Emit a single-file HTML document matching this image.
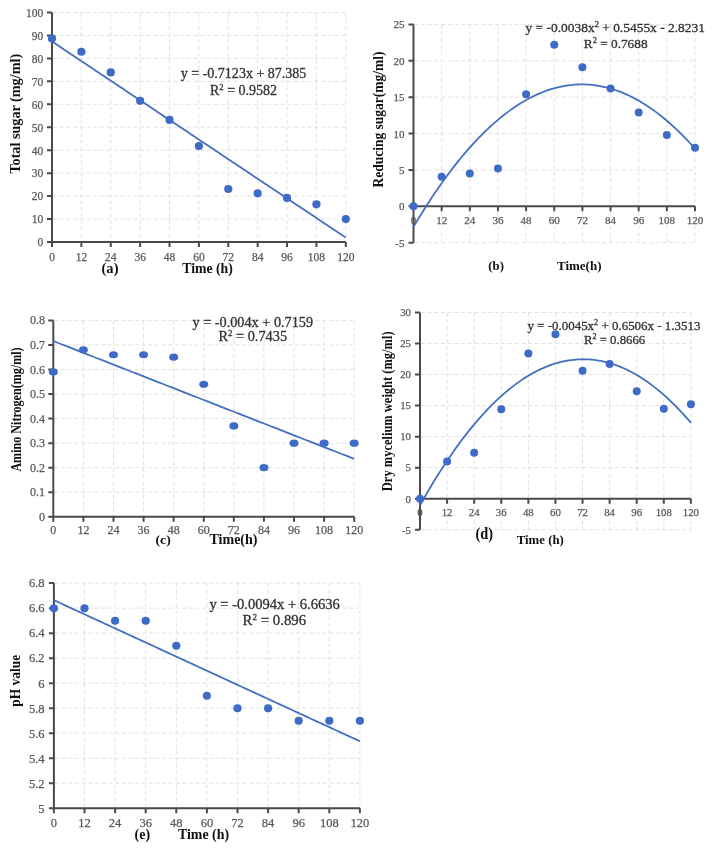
<!DOCTYPE html>
<html><head><meta charset="utf-8"><style>
html,body{margin:0;padding:0;background:#fff;width:721px;height:857px;overflow:hidden}
svg{display:block;filter:blur(0.6px);font-family:"Liberation Serif",serif}
</style></head><body>
<svg width="721" height="857" viewBox="0 0 721 857">
<rect width="721" height="857" fill="#fff"/>
<path d="M53.00 219.05H345.80M53.00 196.10H345.80M53.00 173.15H345.80M53.00 150.20H345.80M53.00 127.25H345.80M53.00 104.30H345.80M53.00 81.35H345.80M53.00 58.40H345.80M53.00 35.45H345.80M53.00 12.50H345.80M81.38 12.50V242.00M110.76 12.50V242.00M140.14 12.50V242.00M169.52 12.50V242.00M198.90 12.50V242.00M228.28 12.50V242.00M257.66 12.50V242.00M287.04 12.50V242.00M316.42 12.50V242.00M345.80 12.50V242.00" stroke="#e2e2e2" stroke-width="1" stroke-dasharray="4 2.7" fill="none"/>
<path d="M52.00 12.50V242.00M52.00 242.00H345.80M47.00 242.00H52.00M47.00 219.05H52.00M47.00 196.10H52.00M47.00 173.15H52.00M47.00 150.20H52.00M47.00 127.25H52.00M47.00 104.30H52.00M47.00 81.35H52.00M47.00 58.40H52.00M47.00 35.45H52.00M47.00 12.50H52.00M52.00 242.00V247.00M81.38 242.00V247.00M110.76 242.00V247.00M140.14 242.00V247.00M169.52 242.00V247.00M198.90 242.00V247.00M228.28 242.00V247.00M257.66 242.00V247.00M287.04 242.00V247.00M316.42 242.00V247.00M345.80 242.00V247.00" stroke="#4a4a4a" stroke-width="2" fill="none"/>
<text x="43.20" y="246.30" font-size="11.5" fill="#595959" stroke="#595959" stroke-width="0.25" text-anchor="end">0</text>
<text x="43.20" y="223.35" font-size="11.5" fill="#595959" stroke="#595959" stroke-width="0.25" text-anchor="end">10</text>
<text x="43.20" y="200.40" font-size="11.5" fill="#595959" stroke="#595959" stroke-width="0.25" text-anchor="end">20</text>
<text x="43.20" y="177.45" font-size="11.5" fill="#595959" stroke="#595959" stroke-width="0.25" text-anchor="end">30</text>
<text x="43.20" y="154.50" font-size="11.5" fill="#595959" stroke="#595959" stroke-width="0.25" text-anchor="end">40</text>
<text x="43.20" y="131.55" font-size="11.5" fill="#595959" stroke="#595959" stroke-width="0.25" text-anchor="end">50</text>
<text x="43.20" y="108.60" font-size="11.5" fill="#595959" stroke="#595959" stroke-width="0.25" text-anchor="end">60</text>
<text x="43.20" y="85.65" font-size="11.5" fill="#595959" stroke="#595959" stroke-width="0.25" text-anchor="end">70</text>
<text x="43.20" y="62.70" font-size="11.5" fill="#595959" stroke="#595959" stroke-width="0.25" text-anchor="end">80</text>
<text x="43.20" y="39.75" font-size="11.5" fill="#595959" stroke="#595959" stroke-width="0.25" text-anchor="end">90</text>
<text x="43.20" y="16.80" font-size="11.5" fill="#595959" stroke="#595959" stroke-width="0.25" text-anchor="end">100</text>
<text x="52.00" y="260.80" font-size="11.5" fill="#595959" stroke="#595959" stroke-width="0.25" text-anchor="middle">0</text>
<text x="81.38" y="260.80" font-size="11.5" fill="#595959" stroke="#595959" stroke-width="0.25" text-anchor="middle">12</text>
<text x="110.76" y="260.80" font-size="11.5" fill="#595959" stroke="#595959" stroke-width="0.25" text-anchor="middle">24</text>
<text x="140.14" y="260.80" font-size="11.5" fill="#595959" stroke="#595959" stroke-width="0.25" text-anchor="middle">36</text>
<text x="169.52" y="260.80" font-size="11.5" fill="#595959" stroke="#595959" stroke-width="0.25" text-anchor="middle">48</text>
<text x="198.90" y="260.80" font-size="11.5" fill="#595959" stroke="#595959" stroke-width="0.25" text-anchor="middle">60</text>
<text x="228.28" y="260.80" font-size="11.5" fill="#595959" stroke="#595959" stroke-width="0.25" text-anchor="middle">72</text>
<text x="257.66" y="260.80" font-size="11.5" fill="#595959" stroke="#595959" stroke-width="0.25" text-anchor="middle">84</text>
<text x="287.04" y="260.80" font-size="11.5" fill="#595959" stroke="#595959" stroke-width="0.25" text-anchor="middle">96</text>
<text x="316.42" y="260.80" font-size="11.5" fill="#595959" stroke="#595959" stroke-width="0.25" text-anchor="middle">108</text>
<text x="345.80" y="260.80" font-size="11.5" fill="#595959" stroke="#595959" stroke-width="0.25" text-anchor="middle">120</text>
<path d="M52.00 41.45L54.45 43.09L56.90 44.72L59.34 46.36L61.79 47.99L64.24 49.63L66.69 51.26L69.14 52.89L71.59 54.53L74.03 56.16L76.48 57.80L78.93 59.43L81.38 61.07L83.83 62.70L86.28 64.34L88.72 65.97L91.17 67.61L93.62 69.24L96.07 70.88L98.52 72.51L100.97 74.15L103.41 75.78L105.86 77.42L108.31 79.05L110.76 80.68L113.21 82.32L115.66 83.95L118.11 85.59L120.55 87.22L123.00 88.86L125.45 90.49L127.90 92.13L130.35 93.76L132.80 95.40L135.24 97.03L137.69 98.67L140.14 100.30L142.59 101.94L145.04 103.57L147.49 105.21L149.93 106.84L152.38 108.48L154.83 110.11L157.28 111.74L159.73 113.38L162.18 115.01L164.62 116.65L167.07 118.28L169.52 119.92L171.97 121.55L174.42 123.19L176.87 124.82L179.31 126.46L181.76 128.09L184.21 129.73L186.66 131.36L189.11 133.00L191.56 134.63L194.00 136.27L196.45 137.90L198.90 139.54L201.35 141.17L203.80 142.80L206.25 144.44L208.69 146.07L211.14 147.71L213.59 149.34L216.04 150.98L218.49 152.61L220.94 154.25L223.38 155.88L225.83 157.52L228.28 159.15L230.73 160.79L233.18 162.42L235.62 164.06L238.07 165.69L240.52 167.33L242.97 168.96L245.42 170.59L247.87 172.23L250.31 173.86L252.76 175.50L255.21 177.13L257.66 178.77L260.11 180.40L262.56 182.04L265.00 183.67L267.45 185.31L269.90 186.94L272.35 188.58L274.80 190.21L277.25 191.85L279.69 193.48L282.14 195.12L284.59 196.75L287.04 198.39L289.49 200.02L291.94 201.65L294.38 203.29L296.83 204.92L299.28 206.56L301.73 208.19L304.18 209.83L306.63 211.46L309.07 213.10L311.52 214.73L313.97 216.37L316.42 218.00L318.87 219.64L321.32 221.27L323.76 222.91L326.21 224.54L328.66 226.18L331.11 227.81L333.56 229.45L336.01 231.08L338.45 232.71L340.90 234.35L343.35 235.98L345.80 237.62" stroke="#4570c2" stroke-width="1.8" fill="none"/>
<ellipse cx="52.00" cy="38.43" rx="4.1" ry="4.1" fill="#3d6bc6"/>
<ellipse cx="81.38" cy="51.74" rx="4.1" ry="4.1" fill="#3d6bc6"/>
<ellipse cx="110.76" cy="72.40" rx="4.1" ry="4.1" fill="#3d6bc6"/>
<ellipse cx="140.14" cy="100.86" rx="4.1" ry="4.1" fill="#3d6bc6"/>
<ellipse cx="169.52" cy="119.91" rx="4.1" ry="4.1" fill="#3d6bc6"/>
<ellipse cx="198.90" cy="146.07" rx="4.1" ry="4.1" fill="#3d6bc6"/>
<ellipse cx="228.28" cy="188.99" rx="4.1" ry="4.1" fill="#3d6bc6"/>
<ellipse cx="257.66" cy="193.35" rx="4.1" ry="4.1" fill="#3d6bc6"/>
<ellipse cx="287.04" cy="197.94" rx="4.1" ry="4.1" fill="#3d6bc6"/>
<ellipse cx="316.42" cy="204.36" rx="4.1" ry="4.1" fill="#3d6bc6"/>
<ellipse cx="345.80" cy="219.05" rx="4.1" ry="4.1" fill="#3d6bc6"/>
<text transform="translate(19.70 113.75) rotate(-90)" font-size="14.5" font-weight="bold" fill="#111111" text-anchor="middle" textLength="119.7" lengthAdjust="spacingAndGlyphs">Total sugar (mg/ml)</text>
<text x="101.50" y="272.60" font-size="14" font-weight="bold" fill="#111111" textLength="17.0" lengthAdjust="spacingAndGlyphs">(a)</text>
<text x="182.30" y="273.10" font-size="14" font-weight="bold" fill="#111111" textLength="50.5" lengthAdjust="spacingAndGlyphs">Time (h)</text>
<text x="180.80" y="77.80" font-size="14" fill="#333333" stroke="#333333" stroke-width="0.3" textLength="125.5" lengthAdjust="spacingAndGlyphs">y = -0.7123x + 87.385</text>
<text x="210.00" y="94.50" font-size="14" fill="#333333" stroke="#333333" stroke-width="0.3" textLength="67.1" lengthAdjust="spacingAndGlyphs">R<tspan font-size="8.7" baseline-shift="5.0">2</tspan> = 0.9582</text>
<path d="M414.50 242.67H695.00M414.50 169.93H695.00M414.50 133.56H695.00M414.50 97.19H695.00M414.50 60.82H695.00M414.50 24.45H695.00M441.65 24.45V242.67M469.80 24.45V242.67M497.95 24.45V242.67M526.10 24.45V242.67M554.25 24.45V242.67M582.40 24.45V242.67M610.55 24.45V242.67M638.70 24.45V242.67M666.85 24.45V242.67M695.00 24.45V242.67" stroke="#e2e2e2" stroke-width="1" stroke-dasharray="4 2.7" fill="none"/>
<path d="M413.50 24.45V242.67M413.50 206.30H695.00M408.50 242.67H413.50M408.50 206.30H413.50M408.50 169.93H413.50M408.50 133.56H413.50M408.50 97.19H413.50M408.50 60.82H413.50M408.50 24.45H413.50M413.50 206.30V211.30M441.65 206.30V211.30M469.80 206.30V211.30M497.95 206.30V211.30M526.10 206.30V211.30M554.25 206.30V211.30M582.40 206.30V211.30M610.55 206.30V211.30M638.70 206.30V211.30M666.85 206.30V211.30M695.00 206.30V211.30" stroke="#4a4a4a" stroke-width="2" fill="none"/>
<text x="404.50" y="246.67" font-size="11" fill="#595959" stroke="#595959" stroke-width="0.25" text-anchor="end">-5</text>
<text x="404.50" y="210.30" font-size="11" fill="#595959" stroke="#595959" stroke-width="0.25" text-anchor="end">0</text>
<text x="404.50" y="173.93" font-size="11" fill="#595959" stroke="#595959" stroke-width="0.25" text-anchor="end">5</text>
<text x="404.50" y="137.56" font-size="11" fill="#595959" stroke="#595959" stroke-width="0.25" text-anchor="end">10</text>
<text x="404.50" y="101.19" font-size="11" fill="#595959" stroke="#595959" stroke-width="0.25" text-anchor="end">15</text>
<text x="404.50" y="64.82" font-size="11" fill="#595959" stroke="#595959" stroke-width="0.25" text-anchor="end">20</text>
<text x="404.50" y="28.45" font-size="11" fill="#595959" stroke="#595959" stroke-width="0.25" text-anchor="end">25</text>
<text x="413.50" y="224.30" font-size="11" fill="#595959" stroke="#595959" stroke-width="0.25" text-anchor="middle">0</text>
<text x="441.65" y="224.30" font-size="11" fill="#595959" stroke="#595959" stroke-width="0.25" text-anchor="middle">12</text>
<text x="469.80" y="224.30" font-size="11" fill="#595959" stroke="#595959" stroke-width="0.25" text-anchor="middle">24</text>
<text x="497.95" y="224.30" font-size="11" fill="#595959" stroke="#595959" stroke-width="0.25" text-anchor="middle">36</text>
<text x="526.10" y="224.30" font-size="11" fill="#595959" stroke="#595959" stroke-width="0.25" text-anchor="middle">48</text>
<text x="554.25" y="224.30" font-size="11" fill="#595959" stroke="#595959" stroke-width="0.25" text-anchor="middle">60</text>
<text x="582.40" y="224.30" font-size="11" fill="#595959" stroke="#595959" stroke-width="0.25" text-anchor="middle">72</text>
<text x="610.55" y="224.30" font-size="11" fill="#595959" stroke="#595959" stroke-width="0.25" text-anchor="middle">84</text>
<text x="638.70" y="224.30" font-size="11" fill="#595959" stroke="#595959" stroke-width="0.25" text-anchor="middle">96</text>
<text x="666.85" y="224.30" font-size="11" fill="#595959" stroke="#595959" stroke-width="0.25" text-anchor="middle">108</text>
<text x="695.00" y="224.30" font-size="11" fill="#595959" stroke="#595959" stroke-width="0.25" text-anchor="middle">120</text>
<path d="M413.50 226.84L415.85 222.89L418.19 219.01L420.54 215.18L422.88 211.41L425.23 207.69L427.57 204.02L429.92 200.41L432.27 196.86L434.61 193.36L436.96 189.92L439.30 186.53L441.65 183.20L444.00 179.92L446.34 176.70L448.69 173.53L451.03 170.42L453.38 167.37L455.73 164.37L458.07 161.42L460.42 158.53L462.76 155.70L465.11 152.92L467.45 150.19L469.80 147.53L472.15 144.91L474.49 142.35L476.84 139.85L479.18 137.40L481.53 135.01L483.88 132.67L486.22 130.39L488.57 128.16L490.91 125.99L493.26 123.88L495.60 121.82L497.95 119.81L500.30 117.86L502.64 115.97L504.99 114.13L507.33 112.34L509.68 110.61L512.02 108.94L514.37 107.32L516.72 105.76L519.06 104.25L521.41 102.80L523.75 101.40L526.10 100.06L528.45 98.77L530.79 97.54L533.14 96.36L535.48 95.24L537.83 94.18L540.17 93.17L542.52 92.21L544.87 91.31L547.21 90.47L549.56 89.68L551.90 88.94L554.25 88.27L556.60 87.64L558.94 87.07L561.29 86.56L563.63 86.10L565.98 85.70L568.33 85.35L570.67 85.06L573.02 84.83L575.36 84.65L577.71 84.52L580.05 84.45L582.40 84.43L584.75 84.47L587.09 84.57L589.44 84.72L591.78 84.93L594.13 85.19L596.48 85.50L598.82 85.87L601.17 86.30L603.51 86.78L605.86 87.32L608.20 87.91L610.55 88.56L612.90 89.27L615.24 90.02L617.59 90.84L619.93 91.71L622.28 92.63L624.62 93.61L626.97 94.65L629.32 95.74L631.66 96.88L634.01 98.08L636.35 99.34L638.70 100.65L641.05 102.02L643.39 103.44L645.74 104.92L648.08 106.45L650.43 108.04L652.77 109.68L655.12 111.38L657.47 113.13L659.81 114.94L662.16 116.81L664.50 118.73L666.85 120.70L669.20 122.73L671.54 124.82L673.89 126.96L676.23 129.15L678.58 131.41L680.92 133.71L683.27 136.07L685.62 138.49L687.96 140.96L690.31 143.49L692.65 146.07L695.00 148.71" stroke="#4570c2" stroke-width="1.8" fill="none"/>
<ellipse cx="413.50" cy="206.30" rx="4" ry="4" fill="#3d6bc6"/>
<ellipse cx="441.65" cy="176.84" rx="4" ry="4" fill="#3d6bc6"/>
<ellipse cx="469.80" cy="173.57" rx="4" ry="4" fill="#3d6bc6"/>
<ellipse cx="497.95" cy="168.48" rx="4" ry="4" fill="#3d6bc6"/>
<ellipse cx="526.10" cy="94.28" rx="4" ry="4" fill="#3d6bc6"/>
<ellipse cx="554.25" cy="44.82" rx="4" ry="4" fill="#3d6bc6"/>
<ellipse cx="582.40" cy="67.37" rx="4" ry="4" fill="#3d6bc6"/>
<ellipse cx="610.55" cy="88.46" rx="4" ry="4" fill="#3d6bc6"/>
<ellipse cx="638.70" cy="112.47" rx="4" ry="4" fill="#3d6bc6"/>
<ellipse cx="666.85" cy="135.01" rx="4" ry="4" fill="#3d6bc6"/>
<ellipse cx="695.00" cy="147.74" rx="4" ry="4" fill="#3d6bc6"/>
<text transform="translate(383.30 119.50) rotate(-90)" font-size="13.8" font-weight="bold" fill="#111111" text-anchor="middle" textLength="136.0" lengthAdjust="spacingAndGlyphs">Reducing sugar(mg/ml)</text>
<text x="488.30" y="270.40" font-size="13.5" font-weight="bold" fill="#111111" textLength="15.6" lengthAdjust="spacingAndGlyphs">(b)</text>
<text x="557.00" y="270.40" font-size="13.5" font-weight="bold" fill="#111111" textLength="44.5" lengthAdjust="spacingAndGlyphs">Time(h)</text>
<text x="525.50" y="32.20" font-size="13.5" fill="#333333" stroke="#333333" stroke-width="0.3" textLength="179.5" lengthAdjust="spacingAndGlyphs">y = -0.0038x<tspan font-size="8.4" baseline-shift="4.9">2</tspan> + 0.5455x - 2.8231</text>
<text x="583.80" y="47.70" font-size="13.5" fill="#333333" stroke="#333333" stroke-width="0.3" textLength="63.8" lengthAdjust="spacingAndGlyphs">R<tspan font-size="8.4" baseline-shift="4.9">2</tspan> = 0.7688</text>
<path d="M54.30 492.25H354.20M54.30 467.70H354.20M54.30 443.15H354.20M54.30 418.60H354.20M54.30 394.05H354.20M54.30 369.50H354.20M54.30 344.95H354.20M54.30 320.40H354.20M83.39 320.40V516.80M113.48 320.40V516.80M143.57 320.40V516.80M173.66 320.40V516.80M203.75 320.40V516.80M233.84 320.40V516.80M263.93 320.40V516.80M294.02 320.40V516.80M324.11 320.40V516.80M354.20 320.40V516.80" stroke="#e2e2e2" stroke-width="1" stroke-dasharray="4 2.7" fill="none"/>
<path d="M53.30 320.40V516.80M53.30 516.80H354.20M48.30 516.80H53.30M48.30 492.25H53.30M48.30 467.70H53.30M48.30 443.15H53.30M48.30 418.60H53.30M48.30 394.05H53.30M48.30 369.50H53.30M48.30 344.95H53.30M48.30 320.40H53.30M53.30 516.80V521.80M83.39 516.80V521.80M113.48 516.80V521.80M143.57 516.80V521.80M173.66 516.80V521.80M203.75 516.80V521.80M233.84 516.80V521.80M263.93 516.80V521.80M294.02 516.80V521.80M324.11 516.80V521.80M354.20 516.80V521.80" stroke="#4a4a4a" stroke-width="2" fill="none"/>
<text x="45.00" y="520.80" font-size="12" fill="#595959" stroke="#595959" stroke-width="0.25" text-anchor="end">0</text>
<text x="45.00" y="496.25" font-size="12" fill="#595959" stroke="#595959" stroke-width="0.25" text-anchor="end">0.1</text>
<text x="45.00" y="471.70" font-size="12" fill="#595959" stroke="#595959" stroke-width="0.25" text-anchor="end">0.2</text>
<text x="45.00" y="447.15" font-size="12" fill="#595959" stroke="#595959" stroke-width="0.25" text-anchor="end">0.3</text>
<text x="45.00" y="422.60" font-size="12" fill="#595959" stroke="#595959" stroke-width="0.25" text-anchor="end">0.4</text>
<text x="45.00" y="398.05" font-size="12" fill="#595959" stroke="#595959" stroke-width="0.25" text-anchor="end">0.5</text>
<text x="45.00" y="373.50" font-size="12" fill="#595959" stroke="#595959" stroke-width="0.25" text-anchor="end">0.6</text>
<text x="45.00" y="348.95" font-size="12" fill="#595959" stroke="#595959" stroke-width="0.25" text-anchor="end">0.7</text>
<text x="45.00" y="324.40" font-size="12" fill="#595959" stroke="#595959" stroke-width="0.25" text-anchor="end">0.8</text>
<text x="53.30" y="533.50" font-size="12" fill="#595959" stroke="#595959" stroke-width="0.25" text-anchor="middle">0</text>
<text x="83.39" y="533.50" font-size="12" fill="#595959" stroke="#595959" stroke-width="0.25" text-anchor="middle">12</text>
<text x="113.48" y="533.50" font-size="12" fill="#595959" stroke="#595959" stroke-width="0.25" text-anchor="middle">24</text>
<text x="143.57" y="533.50" font-size="12" fill="#595959" stroke="#595959" stroke-width="0.25" text-anchor="middle">36</text>
<text x="173.66" y="533.50" font-size="12" fill="#595959" stroke="#595959" stroke-width="0.25" text-anchor="middle">48</text>
<text x="203.75" y="533.50" font-size="12" fill="#595959" stroke="#595959" stroke-width="0.25" text-anchor="middle">60</text>
<text x="233.84" y="533.50" font-size="12" fill="#595959" stroke="#595959" stroke-width="0.25" text-anchor="middle">72</text>
<text x="263.93" y="533.50" font-size="12" fill="#595959" stroke="#595959" stroke-width="0.25" text-anchor="middle">84</text>
<text x="294.02" y="533.50" font-size="12" fill="#595959" stroke="#595959" stroke-width="0.25" text-anchor="middle">96</text>
<text x="324.11" y="533.50" font-size="12" fill="#595959" stroke="#595959" stroke-width="0.25" text-anchor="middle">108</text>
<text x="354.20" y="533.50" font-size="12" fill="#595959" stroke="#595959" stroke-width="0.25" text-anchor="middle">120</text>
<path d="M53.30 341.05L55.81 342.03L58.31 343.01L60.82 343.99L63.33 344.97L65.84 345.96L68.34 346.94L70.85 347.92L73.36 348.90L75.87 349.88L78.38 350.87L80.88 351.85L83.39 352.83L85.90 353.81L88.41 354.79L90.91 355.78L93.42 356.76L95.93 357.74L98.44 358.72L100.94 359.70L103.45 360.69L105.96 361.67L108.47 362.65L110.97 363.63L113.48 364.61L115.99 365.60L118.49 366.58L121.00 367.56L123.51 368.54L126.02 369.52L128.52 370.51L131.03 371.49L133.54 372.47L136.05 373.45L138.56 374.43L141.06 375.42L143.57 376.40L146.08 377.38L148.58 378.36L151.09 379.34L153.60 380.33L156.11 381.31L158.62 382.29L161.12 383.27L163.63 384.25L166.14 385.24L168.64 386.22L171.15 387.20L173.66 388.18L176.17 389.16L178.67 390.15L181.18 391.13L183.69 392.11L186.20 393.09L188.70 394.07L191.21 395.06L193.72 396.04L196.23 397.02L198.74 398.00L201.24 398.98L203.75 399.97L206.26 400.95L208.76 401.93L211.27 402.91L213.78 403.89L216.29 404.88L218.79 405.86L221.30 406.84L223.81 407.82L226.32 408.80L228.82 409.79L231.33 410.77L233.84 411.75L236.35 412.73L238.85 413.71L241.36 414.70L243.87 415.68L246.38 416.66L248.88 417.64L251.39 418.62L253.90 419.61L256.41 420.59L258.91 421.57L261.42 422.55L263.93 423.53L266.44 424.52L268.94 425.50L271.45 426.48L273.96 427.46L276.47 428.44L278.97 429.43L281.48 430.41L283.99 431.39L286.50 432.37L289.00 433.35L291.51 434.34L294.02 435.32L296.53 436.30L299.03 437.28L301.54 438.26L304.05 439.25L306.56 440.23L309.06 441.21L311.57 442.19L314.08 443.17L316.59 444.16L319.09 445.14L321.60 446.12L324.11 447.10L326.62 448.08L329.12 449.07L331.63 450.05L334.14 451.03L336.65 452.01L339.15 452.99L341.66 453.98L344.17 454.96L346.68 455.94L349.19 456.92L351.69 457.90L354.20 458.89" stroke="#4570c2" stroke-width="1.8" fill="none"/>
<ellipse cx="53.30" cy="371.95" rx="4.5" ry="3.6" fill="#3d6bc6"/>
<ellipse cx="83.39" cy="349.86" rx="4.5" ry="3.6" fill="#3d6bc6"/>
<ellipse cx="113.48" cy="354.77" rx="4.5" ry="3.6" fill="#3d6bc6"/>
<ellipse cx="143.57" cy="354.77" rx="4.5" ry="3.6" fill="#3d6bc6"/>
<ellipse cx="173.66" cy="357.22" rx="4.5" ry="3.6" fill="#3d6bc6"/>
<ellipse cx="203.75" cy="384.23" rx="4.5" ry="3.6" fill="#3d6bc6"/>
<ellipse cx="233.84" cy="425.96" rx="4.5" ry="3.6" fill="#3d6bc6"/>
<ellipse cx="263.93" cy="467.70" rx="4.5" ry="3.6" fill="#3d6bc6"/>
<ellipse cx="294.02" cy="443.15" rx="4.5" ry="3.6" fill="#3d6bc6"/>
<ellipse cx="324.11" cy="443.15" rx="4.5" ry="3.6" fill="#3d6bc6"/>
<ellipse cx="354.20" cy="443.15" rx="4.5" ry="3.6" fill="#3d6bc6"/>
<text transform="translate(20.80 409.50) rotate(-90)" font-size="15" font-weight="bold" fill="#111111" text-anchor="middle" textLength="124.2" lengthAdjust="spacingAndGlyphs">Amino Nitrogen(mg/ml)</text>
<text x="155.50" y="544.30" font-size="13.5" font-weight="bold" fill="#111111" textLength="15.2" lengthAdjust="spacingAndGlyphs">(c)</text>
<text x="209.50" y="543.70" font-size="14" font-weight="bold" fill="#111111" textLength="48.0" lengthAdjust="spacingAndGlyphs">Time(h)</text>
<text x="192.50" y="327.00" font-size="14" fill="#333333" stroke="#333333" stroke-width="0.3" textLength="120.6" lengthAdjust="spacingAndGlyphs">y = -0.004x + 0.7159</text>
<text x="218.50" y="341.20" font-size="14" fill="#333333" stroke="#333333" stroke-width="0.3" textLength="68.6" lengthAdjust="spacingAndGlyphs">R<tspan font-size="8.7" baseline-shift="5.0">2</tspan> = 0.7435</text>
<path d="M421.00 529.74H690.90M421.00 467.66H690.90M421.00 436.63H690.90M421.00 405.59H690.90M421.00 374.56H690.90M421.00 343.52H690.90M421.00 312.49H690.90M447.09 312.49V529.74M474.18 312.49V529.74M501.27 312.49V529.74M528.36 312.49V529.74M555.45 312.49V529.74M582.54 312.49V529.74M609.63 312.49V529.74M636.72 312.49V529.74M663.81 312.49V529.74M690.90 312.49V529.74" stroke="#e2e2e2" stroke-width="1" stroke-dasharray="4 2.7" fill="none"/>
<path d="M420.00 312.49V529.74M420.00 498.70H690.90M415.00 529.74H420.00M415.00 498.70H420.00M415.00 467.66H420.00M415.00 436.63H420.00M415.00 405.59H420.00M415.00 374.56H420.00M415.00 343.52H420.00M415.00 312.49H420.00M420.00 498.70V503.70M447.09 498.70V503.70M474.18 498.70V503.70M501.27 498.70V503.70M528.36 498.70V503.70M555.45 498.70V503.70M582.54 498.70V503.70M609.63 498.70V503.70M636.72 498.70V503.70M663.81 498.70V503.70M690.90 498.70V503.70" stroke="#4a4a4a" stroke-width="2" fill="none"/>
<text x="411.00" y="533.53" font-size="10.8" fill="#595959" stroke="#595959" stroke-width="0.25" text-anchor="end">-5</text>
<text x="411.00" y="502.50" font-size="10.8" fill="#595959" stroke="#595959" stroke-width="0.25" text-anchor="end">0</text>
<text x="411.00" y="471.46" font-size="10.8" fill="#595959" stroke="#595959" stroke-width="0.25" text-anchor="end">5</text>
<text x="411.00" y="440.43" font-size="10.8" fill="#595959" stroke="#595959" stroke-width="0.25" text-anchor="end">10</text>
<text x="411.00" y="409.39" font-size="10.8" fill="#595959" stroke="#595959" stroke-width="0.25" text-anchor="end">15</text>
<text x="411.00" y="378.36" font-size="10.8" fill="#595959" stroke="#595959" stroke-width="0.25" text-anchor="end">20</text>
<text x="411.00" y="347.32" font-size="10.8" fill="#595959" stroke="#595959" stroke-width="0.25" text-anchor="end">25</text>
<text x="411.00" y="316.29" font-size="10.8" fill="#595959" stroke="#595959" stroke-width="0.25" text-anchor="end">30</text>
<text x="420.00" y="515.80" font-size="10.8" fill="#595959" stroke="#595959" stroke-width="0.25" text-anchor="middle">0</text>
<text x="447.09" y="515.80" font-size="10.8" fill="#595959" stroke="#595959" stroke-width="0.25" text-anchor="middle">12</text>
<text x="474.18" y="515.80" font-size="10.8" fill="#595959" stroke="#595959" stroke-width="0.25" text-anchor="middle">24</text>
<text x="501.27" y="515.80" font-size="10.8" fill="#595959" stroke="#595959" stroke-width="0.25" text-anchor="middle">36</text>
<text x="528.36" y="515.80" font-size="10.8" fill="#595959" stroke="#595959" stroke-width="0.25" text-anchor="middle">48</text>
<text x="555.45" y="515.80" font-size="10.8" fill="#595959" stroke="#595959" stroke-width="0.25" text-anchor="middle">60</text>
<text x="582.54" y="515.80" font-size="10.8" fill="#595959" stroke="#595959" stroke-width="0.25" text-anchor="middle">72</text>
<text x="609.63" y="515.80" font-size="10.8" fill="#595959" stroke="#595959" stroke-width="0.25" text-anchor="middle">84</text>
<text x="636.72" y="515.80" font-size="10.8" fill="#595959" stroke="#595959" stroke-width="0.25" text-anchor="middle">96</text>
<text x="663.81" y="515.80" font-size="10.8" fill="#595959" stroke="#595959" stroke-width="0.25" text-anchor="middle">108</text>
<text x="690.90" y="515.80" font-size="10.8" fill="#595959" stroke="#595959" stroke-width="0.25" text-anchor="middle">120</text>
<path d="M420.00 505.23L422.26 501.22L424.51 497.26L426.77 493.36L429.03 489.52L431.29 485.73L433.55 482.00L435.80 478.33L438.06 474.71L440.32 471.14L442.57 467.64L444.83 464.18L447.09 460.79L449.35 457.45L451.61 454.16L453.86 450.94L456.12 447.76L458.38 444.65L460.63 441.59L462.89 438.58L465.15 435.63L467.41 432.74L469.67 429.90L471.92 427.12L474.18 424.40L476.44 421.73L478.69 419.11L480.95 416.55L483.21 414.05L485.47 411.61L487.73 409.22L489.98 406.88L492.24 404.60L494.50 402.38L496.75 400.21L499.01 398.10L501.27 396.05L503.53 394.05L505.78 392.10L508.04 390.22L510.30 388.38L512.56 386.61L514.82 384.89L517.07 383.22L519.33 381.62L521.59 380.06L523.85 378.57L526.10 377.13L528.36 375.74L530.62 374.41L532.88 373.14L535.13 371.92L537.39 370.76L539.65 369.66L541.90 368.61L544.16 367.61L546.42 366.68L548.68 365.79L550.93 364.97L553.19 364.20L555.45 363.48L557.71 362.82L559.97 362.22L562.22 361.67L564.48 361.18L566.74 360.75L569.00 360.37L571.25 360.05L573.51 359.78L575.77 359.57L578.02 359.41L580.28 359.31L582.54 359.27L584.80 359.28L587.05 359.35L589.31 359.47L591.57 359.65L593.83 359.88L596.09 360.18L598.34 360.52L600.60 360.93L602.86 361.38L605.12 361.90L607.37 362.47L609.63 363.10L611.89 363.78L614.14 364.52L616.40 365.31L618.66 366.16L620.92 367.06L623.17 368.03L625.43 369.04L627.69 370.12L629.95 371.25L632.20 372.43L634.46 373.67L636.72 374.97L638.98 376.32L641.24 377.73L643.49 379.19L645.75 380.71L648.01 382.29L650.26 383.92L652.52 385.61L654.78 387.35L657.04 389.15L659.29 391.01L661.55 392.92L663.81 394.88L666.07 396.91L668.33 398.99L670.58 401.12L672.84 403.31L675.10 405.56L677.36 407.86L679.61 410.22L681.87 412.63L684.13 415.10L686.38 417.63L688.64 420.21L690.90 422.85" stroke="#4570c2" stroke-width="1.8" fill="none"/>
<ellipse cx="420.00" cy="498.70" rx="4" ry="4" fill="#3d6bc6"/>
<ellipse cx="447.09" cy="461.46" rx="4" ry="4" fill="#3d6bc6"/>
<ellipse cx="474.18" cy="452.77" rx="4" ry="4" fill="#3d6bc6"/>
<ellipse cx="501.27" cy="409.32" rx="4" ry="4" fill="#3d6bc6"/>
<ellipse cx="528.36" cy="353.46" rx="4" ry="4" fill="#3d6bc6"/>
<ellipse cx="555.45" cy="334.21" rx="4" ry="4" fill="#3d6bc6"/>
<ellipse cx="582.54" cy="370.84" rx="4" ry="4" fill="#3d6bc6"/>
<ellipse cx="609.63" cy="364.01" rx="4" ry="4" fill="#3d6bc6"/>
<ellipse cx="636.72" cy="391.32" rx="4" ry="4" fill="#3d6bc6"/>
<ellipse cx="663.81" cy="408.70" rx="4" ry="4" fill="#3d6bc6"/>
<ellipse cx="690.90" cy="404.35" rx="4" ry="4" fill="#3d6bc6"/>
<text transform="translate(392.00 411.30) rotate(-90)" font-size="13.6" font-weight="bold" fill="#111111" text-anchor="middle" textLength="159.7" lengthAdjust="spacingAndGlyphs">Dry mycelium weight (mg/ml)</text>
<text x="475.50" y="539.00" font-size="16" font-weight="bold" fill="#111111" textLength="17.5" lengthAdjust="spacingAndGlyphs">(d)</text>
<text x="516.70" y="544.00" font-size="13" font-weight="bold" fill="#111111" textLength="47.2" lengthAdjust="spacingAndGlyphs">Time (h)</text>
<text x="527.40" y="329.80" font-size="13" fill="#333333" stroke="#333333" stroke-width="0.3" textLength="173.1" lengthAdjust="spacingAndGlyphs">y = -0.0045x<tspan font-size="8.1" baseline-shift="4.7">2</tspan> + 0.6506x - 1.3513</text>
<text x="584.00" y="344.30" font-size="13" fill="#333333" stroke="#333333" stroke-width="0.3" textLength="61.2" lengthAdjust="spacingAndGlyphs">R<tspan font-size="8.1" baseline-shift="4.7">2</tspan> = 0.8666</text>
<path d="M54.90 808.30H359.90M54.90 783.28H359.90M54.90 758.26H359.90M54.90 733.24H359.90M54.90 708.22H359.90M54.90 683.20H359.90M54.90 658.18H359.90M54.90 633.16H359.90M54.90 608.14H359.90M54.90 583.12H359.90M84.50 583.12V808.30M115.10 583.12V808.30M145.70 583.12V808.30M176.30 583.12V808.30M206.90 583.12V808.30M237.50 583.12V808.30M268.10 583.12V808.30M298.70 583.12V808.30M329.30 583.12V808.30M359.90 583.12V808.30" stroke="#e2e2e2" stroke-width="1" stroke-dasharray="4 2.7" fill="none"/>
<path d="M53.90 583.12V808.30M53.90 808.30H359.90M48.90 808.30H53.90M48.90 783.28H53.90M48.90 758.26H53.90M48.90 733.24H53.90M48.90 708.22H53.90M48.90 683.20H53.90M48.90 658.18H53.90M48.90 633.16H53.90M48.90 608.14H53.90M48.90 583.12H53.90M53.90 808.30V813.30M84.50 808.30V813.30M115.10 808.30V813.30M145.70 808.30V813.30M176.30 808.30V813.30M206.90 808.30V813.30M237.50 808.30V813.30M268.10 808.30V813.30M298.70 808.30V813.30M329.30 808.30V813.30M359.90 808.30V813.30" stroke="#4a4a4a" stroke-width="2" fill="none"/>
<text x="44.50" y="812.60" font-size="12.5" fill="#595959" stroke="#595959" stroke-width="0.25" text-anchor="end">5</text>
<text x="44.50" y="787.58" font-size="12.5" fill="#595959" stroke="#595959" stroke-width="0.25" text-anchor="end">5.2</text>
<text x="44.50" y="762.56" font-size="12.5" fill="#595959" stroke="#595959" stroke-width="0.25" text-anchor="end">5.4</text>
<text x="44.50" y="737.54" font-size="12.5" fill="#595959" stroke="#595959" stroke-width="0.25" text-anchor="end">5.6</text>
<text x="44.50" y="712.52" font-size="12.5" fill="#595959" stroke="#595959" stroke-width="0.25" text-anchor="end">5.8</text>
<text x="44.50" y="687.50" font-size="12.5" fill="#595959" stroke="#595959" stroke-width="0.25" text-anchor="end">6</text>
<text x="44.50" y="662.48" font-size="12.5" fill="#595959" stroke="#595959" stroke-width="0.25" text-anchor="end">6.2</text>
<text x="44.50" y="637.46" font-size="12.5" fill="#595959" stroke="#595959" stroke-width="0.25" text-anchor="end">6.4</text>
<text x="44.50" y="612.44" font-size="12.5" fill="#595959" stroke="#595959" stroke-width="0.25" text-anchor="end">6.6</text>
<text x="44.50" y="587.42" font-size="12.5" fill="#595959" stroke="#595959" stroke-width="0.25" text-anchor="end">6.8</text>
<text x="53.90" y="827.00" font-size="12.5" fill="#595959" stroke="#595959" stroke-width="0.25" text-anchor="middle">0</text>
<text x="84.50" y="827.00" font-size="12.5" fill="#595959" stroke="#595959" stroke-width="0.25" text-anchor="middle">12</text>
<text x="115.10" y="827.00" font-size="12.5" fill="#595959" stroke="#595959" stroke-width="0.25" text-anchor="middle">24</text>
<text x="145.70" y="827.00" font-size="12.5" fill="#595959" stroke="#595959" stroke-width="0.25" text-anchor="middle">36</text>
<text x="176.30" y="827.00" font-size="12.5" fill="#595959" stroke="#595959" stroke-width="0.25" text-anchor="middle">48</text>
<text x="206.90" y="827.00" font-size="12.5" fill="#595959" stroke="#595959" stroke-width="0.25" text-anchor="middle">60</text>
<text x="237.50" y="827.00" font-size="12.5" fill="#595959" stroke="#595959" stroke-width="0.25" text-anchor="middle">72</text>
<text x="268.10" y="827.00" font-size="12.5" fill="#595959" stroke="#595959" stroke-width="0.25" text-anchor="middle">84</text>
<text x="298.70" y="827.00" font-size="12.5" fill="#595959" stroke="#595959" stroke-width="0.25" text-anchor="middle">96</text>
<text x="329.30" y="827.00" font-size="12.5" fill="#595959" stroke="#595959" stroke-width="0.25" text-anchor="middle">108</text>
<text x="359.90" y="827.00" font-size="12.5" fill="#595959" stroke="#595959" stroke-width="0.25" text-anchor="middle">120</text>
<path d="M53.90 600.18L56.45 601.36L59.00 602.54L61.55 603.71L64.10 604.89L66.65 606.06L69.20 607.24L71.75 608.42L74.30 609.59L76.85 610.77L79.40 611.94L81.95 613.12L84.50 614.29L87.05 615.47L89.60 616.65L92.15 617.82L94.70 619.00L97.25 620.17L99.80 621.35L102.35 622.53L104.90 623.70L107.45 624.88L110.00 626.05L112.55 627.23L115.10 628.41L117.65 629.58L120.20 630.76L122.75 631.93L125.30 633.11L127.85 634.29L130.40 635.46L132.95 636.64L135.50 637.81L138.05 638.99L140.60 640.17L143.15 641.34L145.70 642.52L148.25 643.69L150.80 644.87L153.35 646.05L155.90 647.22L158.45 648.40L161.00 649.57L163.55 650.75L166.10 651.92L168.65 653.10L171.20 654.28L173.75 655.45L176.30 656.63L178.85 657.80L181.40 658.98L183.95 660.16L186.50 661.33L189.05 662.51L191.60 663.68L194.15 664.86L196.70 666.04L199.25 667.21L201.80 668.39L204.35 669.56L206.90 670.74L209.45 671.92L212.00 673.09L214.55 674.27L217.10 675.44L219.65 676.62L222.20 677.80L224.75 678.97L227.30 680.15L229.85 681.32L232.40 682.50L234.95 683.68L237.50 684.85L240.05 686.03L242.60 687.20L245.15 688.38L247.70 689.56L250.25 690.73L252.80 691.91L255.35 693.08L257.90 694.26L260.45 695.43L263.00 696.61L265.55 697.79L268.10 698.96L270.65 700.14L273.20 701.31L275.75 702.49L278.30 703.67L280.85 704.84L283.40 706.02L285.95 707.19L288.50 708.37L291.05 709.55L293.60 710.72L296.15 711.90L298.70 713.07L301.25 714.25L303.80 715.43L306.35 716.60L308.90 717.78L311.45 718.95L314.00 720.13L316.55 721.31L319.10 722.48L321.65 723.66L324.20 724.83L326.75 726.01L329.30 727.19L331.85 728.36L334.40 729.54L336.95 730.71L339.50 731.89L342.05 733.06L344.60 734.24L347.15 735.42L349.70 736.59L352.25 737.77L354.80 738.94L357.35 740.12L359.90 741.30" stroke="#4570c2" stroke-width="1.8" fill="none"/>
<ellipse cx="53.90" cy="608.14" rx="4.1" ry="4.0" fill="#3d6bc6"/>
<ellipse cx="84.50" cy="608.14" rx="4.1" ry="4.0" fill="#3d6bc6"/>
<ellipse cx="115.10" cy="620.65" rx="4.1" ry="4.0" fill="#3d6bc6"/>
<ellipse cx="145.70" cy="620.65" rx="4.1" ry="4.0" fill="#3d6bc6"/>
<ellipse cx="176.30" cy="645.67" rx="4.1" ry="4.0" fill="#3d6bc6"/>
<ellipse cx="206.90" cy="695.71" rx="4.1" ry="4.0" fill="#3d6bc6"/>
<ellipse cx="237.50" cy="708.22" rx="4.1" ry="4.0" fill="#3d6bc6"/>
<ellipse cx="268.10" cy="708.22" rx="4.1" ry="4.0" fill="#3d6bc6"/>
<ellipse cx="298.70" cy="720.73" rx="4.1" ry="4.0" fill="#3d6bc6"/>
<ellipse cx="329.30" cy="720.73" rx="4.1" ry="4.0" fill="#3d6bc6"/>
<ellipse cx="359.90" cy="720.73" rx="4.1" ry="4.0" fill="#3d6bc6"/>
<text transform="translate(20.10 680.80) rotate(-90)" font-size="13.8" font-weight="bold" fill="#111111" text-anchor="middle" textLength="51.9" lengthAdjust="spacingAndGlyphs">pH value</text>
<text x="134.60" y="839.30" font-size="14" font-weight="bold" fill="#111111" textLength="15.5" lengthAdjust="spacingAndGlyphs">(e)</text>
<text x="177.90" y="839.30" font-size="14" font-weight="bold" fill="#111111" textLength="51.2" lengthAdjust="spacingAndGlyphs">Time (h)</text>
<text x="209.40" y="609.30" font-size="14" fill="#333333" stroke="#333333" stroke-width="0.3" textLength="130.4" lengthAdjust="spacingAndGlyphs">y = -0.0094x + 6.6636</text>
<text x="242.60" y="625.30" font-size="14" fill="#333333" stroke="#333333" stroke-width="0.3" textLength="63.5" lengthAdjust="spacingAndGlyphs">R<tspan font-size="8.7" baseline-shift="5.0">2</tspan> = 0.896</text>
</svg>
</body></html>
